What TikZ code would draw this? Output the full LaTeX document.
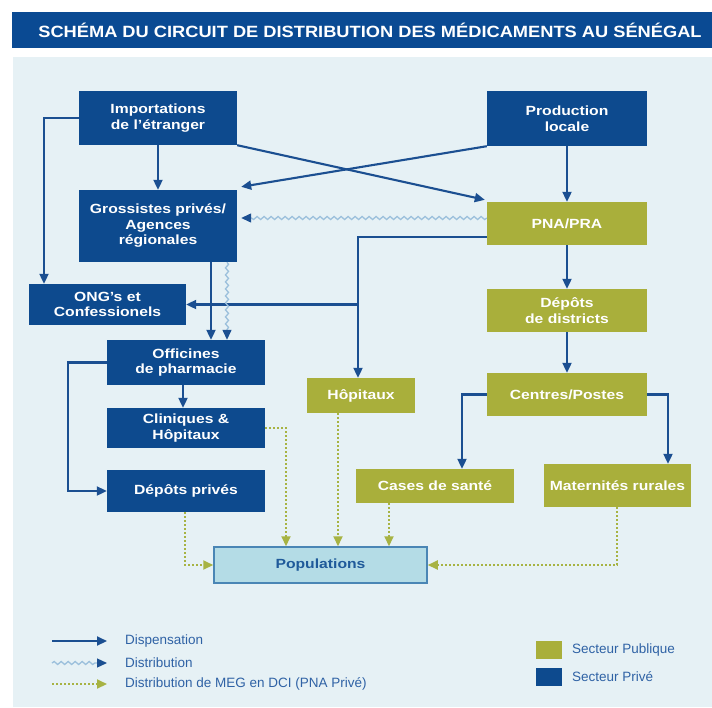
\documentclass[tikz,border=0pt]{standalone}
\usepackage{fontspec}
\setmainfont{Liberation Sans}
\newfontfamily\nodefont[FakeStretch=1.18]{Liberation Sans}
\newfontfamily\titlefont[FakeStretch=1.12]{Liberation Sans}
\usetikzlibrary{arrows.meta,decorations.pathmorphing,calc}
\definecolor{pblue}{HTML}{0D4A8E}
\definecolor{pgreen}{HTML}{A9AF3B}
\definecolor{ablue}{HTML}{1B4F91}
\definecolor{wblue}{HTML}{9CC0DC}
\definecolor{dgreen}{HTML}{A7B343}
\definecolor{panel}{HTML}{E6F1F5}
\definecolor{popfill}{HTML}{B4DCE6}
\definecolor{popdraw}{HTML}{4A86B5}
\definecolor{poptext}{HTML}{1F5A9A}
\definecolor{legtext}{HTML}{2F62A5}
\definecolor{titlebar}{HTML}{0A4A93}
\tikzset{
  box/.style={rectangle, inner sep=0pt, align=center, text=white,
    font=\nodefont\bfseries\fontsize{13.3}{15.5}\selectfont},
  priv/.style={box, fill=pblue},
  pub/.style={box, fill=pgreen},
  disp/.style={draw=ablue, line width=2.1pt, -{Triangle[length=10pt,width=9pt]}},
  wavy/.style={draw=wblue, line width=1.3pt,
    decorate, decoration={snake, amplitude=1.5pt, segment length=7pt, post length=10pt},
    -{Triangle[length=10pt,width=9pt,color=ablue]}},
  dotarrow/.style={draw=dgreen, line width=2pt, dash pattern=on 2pt off 2pt,
    -{Triangle[length=10pt,width=9pt]}},
  legend/.style={anchor=west, inner sep=0pt, text=legtext, font=\fontsize{13.5}{15}\selectfont}
}
\begin{document}
\begin{tikzpicture}[x=1pt,y=-1pt]
\useasboundingbox (0,0) rectangle (712,707);
\fill[white] (0,0) rectangle (712,707);
% title
\fill[titlebar] (12,12) rectangle (712,48);
\node[text=white, font=\titlefont\bfseries\fontsize{16.3}{18}\selectfont, inner sep=0pt] (title) at (370,30)
  {SCHÉMA DU CIRCUIT DE DISTRIBUTION DES MÉDICAMENTS AU SÉNÉGAL};
% panel
\fill[panel] (13,57) rectangle (712,707);

% nodes
\node[priv, minimum width=158pt, minimum height=54pt] (imp) at (158,118) {Importations\\de l’étranger};
\node[priv, minimum width=158pt, minimum height=72pt] (gro) at (158,226) {Grossistes privés/\\Agences\\régionales};
\node[priv, minimum width=157pt, minimum height=41pt] (ong) at (107.5,304.5) {ONG’s et\\Confessionels};
\node[priv, minimum width=158pt, minimum height=45pt] (off) at (186,362.5) {Officines\\de pharmacie};
\node[priv, minimum width=158pt, minimum height=40pt] (cli) at (186,428) {Cliniques \&\\Hôpitaux};
\node[priv, minimum width=158pt, minimum height=42pt] (dep) at (186,491) {Dépôts privés};
\node[priv, minimum width=160pt, minimum height=55pt] (prod) at (567,118.5) {Production\\locale};
\node[pub, minimum width=160pt, minimum height=43pt] (pna) at (567,223.5) {PNA/PRA};
\node[pub, minimum width=160pt, minimum height=43pt] (dis) at (567,310.5) {Dépôts\\de districts};
\node[pub, minimum width=160pt, minimum height=43pt] (cen) at (567,394.5) {Centres/Postes};
\node[pub, minimum width=108pt, minimum height=35pt] (hop) at (361,395.5) {Hôpitaux};
\node[pub, minimum width=158pt, minimum height=34pt] (cas) at (435,486) {Cases de santé};
\node[pub, minimum width=147pt, minimum height=43pt] (mat) at (617.5,485.5) {Maternités rurales};
\node[rectangle, inner sep=0pt, fill=popfill, draw=popdraw, line width=1.5pt,
  minimum width=213pt, minimum height=36pt, text=poptext,
  font=\nodefont\bfseries\fontsize{13.3}{15}\selectfont] (pop) at (320.5,565) {Populations};

% dispensation connectors
\draw[disp] (imp.south) -- (gro.north);
\draw[disp] (imp.west) -| ([xshift=-63.5pt]ong.north);
\draw[disp] (imp.south east) -- ([xshift=-2pt,yshift=2pt]pna.north west);
\draw[disp] (prod.south west) -- ([xshift=4pt,yshift=3pt]gro.north east);
\draw[disp] (prod.south) -- (pna.north);
\coordinate (j) at (358,237);
\draw[disp] ([yshift=-13.5pt]pna.west) -| ([xshift=-3pt]hop.north);
\draw[disp] (ong.east -| j) -- (ong.east);
\draw[disp] ([xshift=53pt]gro.south) -- ([xshift=25pt]off.north);
\draw[disp] ([xshift=-3pt]off.south) -- ([xshift=-3pt]cli.north);
\draw[disp] (off.west) -- ++(-39,0) |- (dep.west);
\draw[disp] (pna.south) -- (dis.north);
\draw[disp] (dis.south) -- (cen.north);
\draw[disp] (cen.west) -| ([xshift=27pt]cas.north);
\draw[disp] (cen.east) -| ([xshift=50.5pt]mat.north);

% distribution connectors
\draw[wavy] ([yshift=5.5pt]pna.west) -- ([xshift=4pt,yshift=8pt]gro.east);
\draw[wavy] ([xshift=69pt]gro.south) -- ([xshift=41pt]off.north);

% dotted connectors
\draw[dotarrow] (cli.east) -| ([xshift=-34.5pt]pop.north);
\draw[dotarrow] ([xshift=-23pt]hop.south) -- ([xshift=17.5pt]pop.north);
\draw[dotarrow] ([xshift=-46pt]cas.south) -- ([xshift=68.5pt]pop.north);
\draw[dotarrow] ([xshift=-1pt]dep.south) |- (pop.west);
\draw[dotarrow] ([xshift=-0.5pt]mat.south) |- (pop.east);

% legend
\draw[disp] (52,641) -- (107,641);
\node[legend] (l1) at (125,641) {Dispensation};
\draw[wavy] (52,663) -- (107,663);
\node[legend] (l2) at (125,663) {Distribution};
\draw[dotarrow] (52,684) -- (107,684);
\node[legend] (l3) at (125,684) {Distribution de MEG en DCI (PNA Privé)};
\fill[pgreen] (536,641) rectangle (562,659);
\node[legend] (l4) at (572,650) {Secteur Publique};
\fill[pblue] (536,668) rectangle (562,686);
\node[legend] (l5) at (572,677) {Secteur Privé};
\end{tikzpicture}
\end{document}
